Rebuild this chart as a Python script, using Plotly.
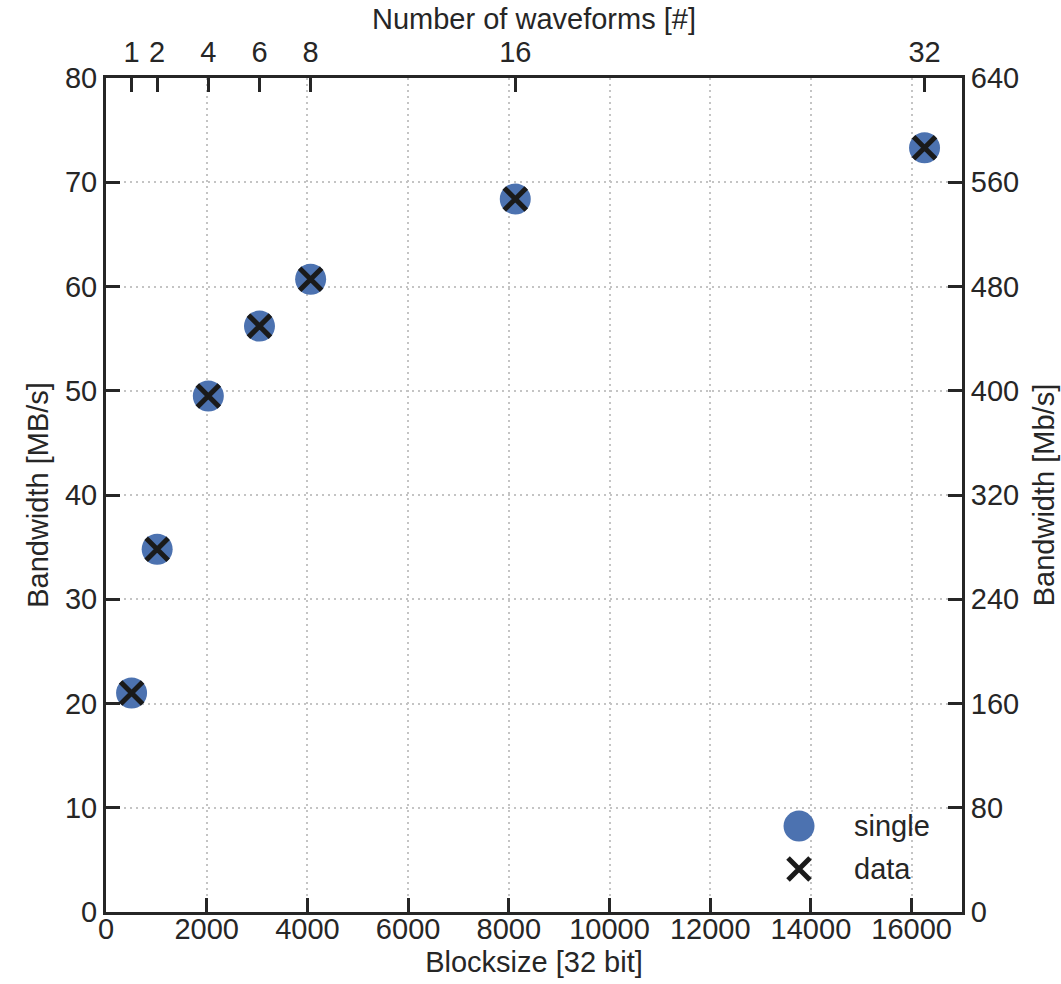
import plotly.graph_objects as go

# Data
n_waveforms = [1, 2, 4, 6, 8, 16, 32]
blocksize = [508, 1016, 2032, 3048, 4064, 8128, 16256]
bandwidth_single = [21.0, 34.8, 49.5, 56.2, 60.7, 68.4, 73.3]
bandwidth_data = [21.0, 34.8, 49.5, 56.2, 60.7, 68.4, 73.3]
x_ticks = [0, 2000, 4000, 6000, 8000, 10000, 12000, 14000, 16000]
y_ticks = [0, 10, 20, 30, 40, 50, 60, 70, 80]
y2_ticks = [0, 80, 160, 240, 320, 400, 480, 560, 640]
legend_labels = ["single", "data"]

FONT = "Liberation Sans, Arial, sans-serif"
TXT = "#262626"
AX = "#262626"
GRID = "#c4c4c4"
FS_TICK = 29
FS_TITLE = 29
BLUE = "#4c72b0"
BLACK = "#1a1a1a"

circle_marker = dict(symbol="circle", size=31, color=BLUE, line=dict(width=0))
x_marker = dict(symbol="x-thin", size=22, color=BLACK, line=dict(width=5, color=BLACK))

fig = go.Figure()
fig.add_trace(go.Scatter(x=blocksize, y=bandwidth_single, mode="markers",
                         name="single", marker=circle_marker, showlegend=False))
fig.add_trace(go.Scatter(x=blocksize, y=bandwidth_data, mode="markers",
                         name="data", marker=x_marker, showlegend=False))
# invisible trace to activate top and right axes
fig.add_trace(go.Scatter(x=blocksize, y=[v * 8 for v in bandwidth_data],
                         xaxis="x2", yaxis="y2", mode="markers",
                         marker=dict(opacity=0), showlegend=False, hoverinfo="skip"))

# legend keys drawn on a hidden unit axis pair covering the plot area
leg_x = 0.8096
leg_y = [0.103, 0.0516]
fig.add_trace(go.Scatter(x=[leg_x], y=[leg_y[0]], xaxis="x3", yaxis="y3", mode="markers",
                         marker=circle_marker, showlegend=False, hoverinfo="skip"))
fig.add_trace(go.Scatter(x=[leg_x], y=[leg_y[1]], xaxis="x3", yaxis="y3", mode="markers",
                         marker=x_marker, showlegend=False, hoverinfo="skip"))
for lab, yy in zip(legend_labels, leg_y):
    fig.add_annotation(x=0.872, y=yy, xref="paper", yref="paper", text=lab,
                       showarrow=False, xanchor="left", yanchor="middle",
                       font=dict(family=FONT, size=FS_TICK, color=TXT))

# top axis title
fig.add_annotation(x=0.5, y=1, xref="paper", yref="paper", text="Number of waveforms [#]",
                   showarrow=False, xanchor="center", yanchor="middle", yshift=59,
                   font=dict(family=FONT, size=FS_TITLE, color=TXT))

common = dict(
    showline=True, linewidth=3, linecolor=AX,
    ticks="inside", ticklen=14, tickwidth=3, tickcolor=AX,
    tickfont=dict(family=FONT, size=FS_TICK, color=TXT),
    zeroline=False, automargin=False,
)

fig.update_layout(
    width=1061, height=984,
    margin=dict(l=106, r=99, t=78, b=72, pad=0, autoexpand=False),
    paper_bgcolor="white", plot_bgcolor="white",
    font=dict(family=FONT, size=FS_TICK, color=TXT),
    xaxis=dict(range=[0, 17000], tickvals=x_ticks, tickformat="d", showgrid=True,
               gridcolor=GRID, gridwidth=2, griddash="2px,4px",
               ticklabelstandoff=-11,
               title=dict(text="Blocksize [32 bit]", font=dict(size=FS_TITLE), standoff=8),
               **common),
    xaxis2=dict(range=[0, 17000], overlaying="x", side="top",
                tickvals=blocksize, ticktext=[str(n) for n in n_waveforms],
                showgrid=False, ticklabelstandoff=1,
                **common),
    xaxis3=dict(range=[0, 1], overlaying="x", visible=False, fixedrange=True),
    yaxis=dict(range=[0, 80], tickvals=y_ticks, showgrid=True,
               gridcolor=GRID, gridwidth=2, griddash="2px,4px",
               title=dict(text="Bandwidth [MB/s]", font=dict(size=FS_TITLE), standoff=8),
               **common),
    yaxis2=dict(range=[0, 640], tickvals=y2_ticks, overlaying="y", side="right",
                showgrid=False,
                title=dict(text="Bandwidth [Mb/s]", font=dict(size=FS_TITLE), standoff=16),
                **common),
    yaxis3=dict(range=[0, 1], overlaying="y", visible=False, fixedrange=True),
    showlegend=False,
)

fig.write_html("out.html", config={"displayModeBar": False},
               post_script="document.body.style.margin='0';")
